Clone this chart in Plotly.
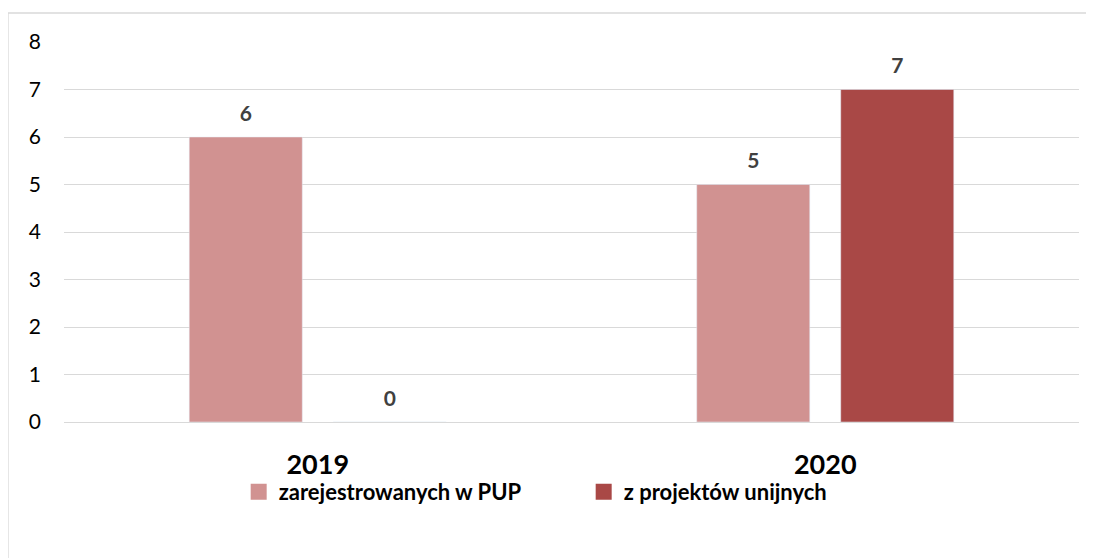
import plotly.graph_objects as go

categories = ["2019", "2020"]
series_names = ["zarejestrowanych w PUP", "z projektów unijnych"]
pup_values = [6, 5]
eu_values = [0, 7]
colors = ["#D19291", "#A94846"]
y_ticks = [0, 1, 2, 3, 4, 5, 6, 7, 8]

FONT = "Lato, 'Open Sans', sans-serif"
BARGAP = 0.4325

fig = go.Figure()
for i, (name, vals, col) in enumerate(zip(series_names, [pup_values, eu_values], colors)):
    fig.add_trace(go.Bar(
        x=categories, y=vals, name=name, marker_color=col,
        offsetgroup=str(i), alignmentgroup="a", hoverinfo="skip",
        showlegend=False, legendgroup=str(i),
    ))
    # legend entry with a larger square swatch
    fig.add_trace(go.Scatter(
        x=[None], y=[None], name=name, mode="markers", legendgroup=str(i),
        marker=dict(symbol="square", size=16, color=col, line=dict(width=0)),
    ))
for i, vals in enumerate([pup_values, eu_values]):
    fig.add_trace(go.Scatter(
        x=categories, y=vals, mode="markers+text", text=[str(v) for v in vals],
        textposition="top center", showlegend=False, hoverinfo="skip",
        offsetgroup=str(i), alignmentgroup="a",
        marker=dict(size=16, color="rgba(0,0,0,0)"),
        textfont=dict(family=FONT, size=21, color="#404040", weight="bold"),
        cliponaxis=False,
    ))

# page body has an 8px margin: the figure starts at (8, 8) in the window
OFF = 8
W, H = 1094 - OFF, 558 - OFF
L, R, T, B = 64 - OFF, 15, 42 - OFF, 136
pw, ph = W - L - R, H - T - B

fig.update_layout(
    width=W, height=H,
    margin=dict(l=L, r=R, t=T, b=B, autoexpand=False),
    paper_bgcolor="white", plot_bgcolor="white",
    barmode="group", bargap=BARGAP, bargroupgap=0.215,
    scattermode="group", scattergap=BARGAP,
    font=dict(family=FONT, color="#000000"),
    showlegend=True,
    legend=dict(
        orientation="h", x=0.512, xanchor="center",
        y=(422 - 492) / ph, yanchor="middle", bgcolor="rgba(0,0,0,0)",
        font=dict(family=FONT, size=22, color="#000000", weight="bold"),
        itemwidth=30, itemsizing="trace", traceorder="normal",
        entrywidth=300, entrywidthmode="pixels",
    ),
    xaxis=dict(
        showgrid=False, showline=False, zeroline=False,
        tickfont=dict(family=FONT, size=27, color="#000000", weight="bold"),
        ticks="", ticklabelstandoff=24,
    ),
    yaxis=dict(
        range=[0, 8], tickvals=y_ticks, showgrid=True, gridcolor="#D9D9D9", gridwidth=1.3,
        zeroline=True, zerolinecolor="#D9D9D9", zerolinewidth=1.3, showline=False,
        tickfont=dict(family=FONT, size=21, color="#000000"),
        ticks="", ticklabelstandoff=22,
    ),
)

fig.add_shape(
    type="rect", xref="paper", yref="paper",
    x0=(8 - 64) / pw, x1=(1092 - 64) / pw,
    y0=(422 - 570) / ph, y1=(422 - 13) / ph,
    line=dict(color="#D9D9D9", width=1.3), fillcolor="rgba(0,0,0,0)", layer="below",
)

fig.write_html("out.html")
